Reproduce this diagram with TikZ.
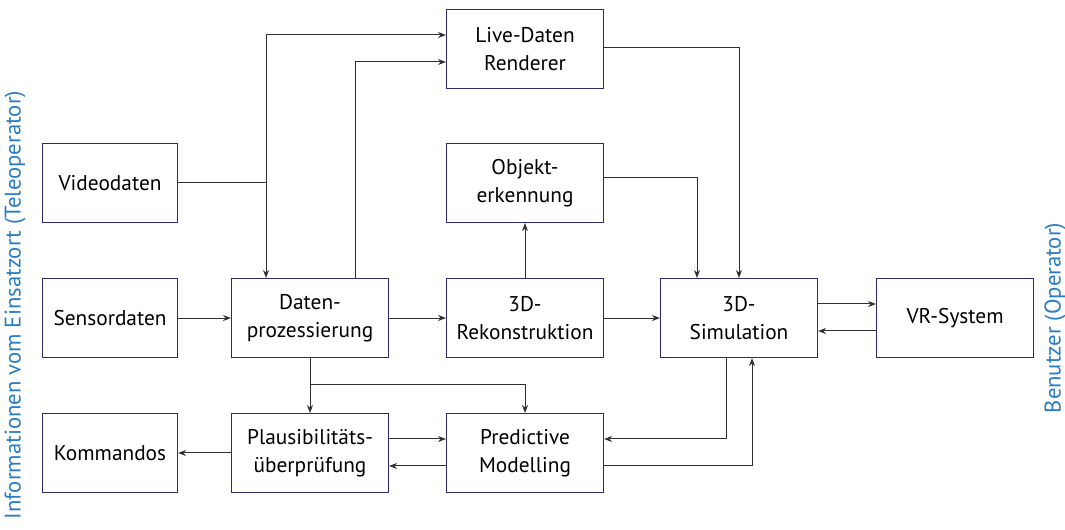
\documentclass[tikz,border=0pt]{standalone}
\usepackage{fontspec}
\setmainfont{PT Sans}
\usetikzlibrary{arrows.meta}
\definecolor{boxline}{HTML}{2E2A6E}
\definecolor{lblue}{HTML}{2A7DC4}
\definecolor{wire}{HTML}{303030}
\begin{document}
\begin{tikzpicture}[x=0.75pt,y=-0.75pt,
  blk/.style={draw=boxline,line width=0.8pt,minimum width=117.75pt,minimum height=59.25pt,inner sep=0pt,align=center,font=\fontsize{16}{21}\selectfont,anchor=north west},
  sblk/.style={blk,minimum width=101.25pt},
  conn/.style={draw=wire,line width=0.75pt,-{Stealth[length=6pt,width=4.5pt]}},
  wireonly/.style={draw=wire,line width=0.75pt},
  side/.style={text=lblue,font=\fontsize{17}{19}\selectfont,rotate=90}]
\useasboundingbox (0,0) rectangle (1065,530);
\node[blk] (live) at (446,9) {Live-Daten\\Renderer};
\node[sblk] (video) at (42,143) {Videodaten};
\node[blk] (obj) at (446,143) {Objekt-\\erkennung};
\node[sblk] (sens) at (42,278) {Sensordaten};
\node[blk] (dat) at (231,278) {Daten-\\prozessierung};
\node[blk] (rek) at (446,278) {3D-\\Rekonstruktion};
\node[blk] (sim) at (660,278) {3D-\\Simulation};
\node[blk] (vr) at (876,278) {VR-System};
\node[sblk] (kom) at (42,413) {Kommandos};
\node[blk] (pla) at (231,413) {Plausibilitäts-\\überprüfung};
\node[blk] (pre) at (446,413) {Predictive\\Modelling};
\node[side] (lside) at (15,305) {Informationen vom Einsatzort (Teleoperator)};
\node[side] (rside) at (1055,318) {Benutzer (Operator)};
\coordinate (vj) at (266,183);
\coordinate (dj) at (310,385);
\draw[wireonly] (video.east |- vj) -- (vj);
\draw[conn] (vj) |- (live.west |- 0,35);
\draw[conn] (vj) -- (dat.north -| vj);
\draw[conn] (dat.north -| 355,0) |- (live.west |- 0,62);
\draw[conn] (live.east |- 0,48) -| (sim.north -| 739,0);
\draw[conn] (obj.east |- 0,178) -| (sim.north -| 697,0);
\draw[conn] (rek.north) -- (obj.south);
\draw[conn] (sens.east) -- (dat.west);
\draw[conn] (dat.west -| dat.east) -- (rek.west);
\draw[conn] (rek.east) -- (sim.west);
\draw[conn] (sim.east |- 0,304) -- (vr.west |- 0,304);
\draw[conn] (vr.west |- 0,331) -- (sim.east |- 0,331);
\draw[conn] (dat.south -| dj) -- (pla.north -| dj);
\draw[conn] (dj) -| (pre.north);
\draw[conn] (pla.east |- 0,439) -- (pre.west |- 0,439);
\draw[conn] (pre.west |- 0,466) -- (pla.east |- 0,466);
\draw[conn] (pla.west |- 0,453) -- (kom.east |- 0,453);
\draw[conn] (sim.south -| 726,0) |- (pre.east |- 0,439);
\draw[conn] (pre.east |- 0,466) -| (sim.south -| 752,0);
\end{tikzpicture}
\end{document}
